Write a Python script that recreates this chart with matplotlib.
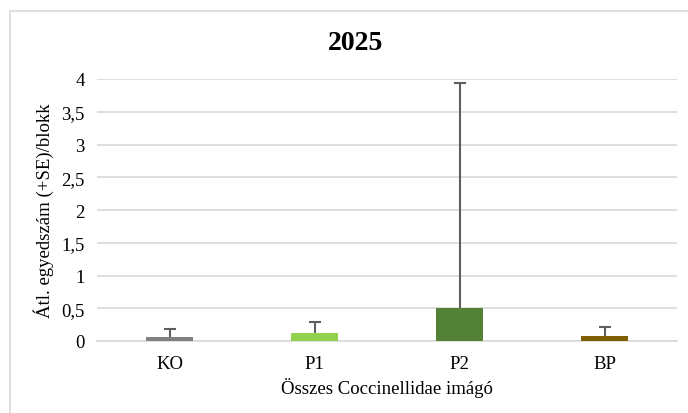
import matplotlib
matplotlib.use("Agg")
import matplotlib.pyplot as plt
from matplotlib.patches import Rectangle

# Mean counts per block and standard errors
categories = ["KO", "P1", "P2", "BP"]
means = [0.06, 0.125, 0.5, 0.08]
se = [0.125, 0.165, 3.44, 0.14]
colors = ["#808080", "#92d050", "#538135", "#7f6000"]
yticks = [0, 0.5, 1, 1.5, 2, 2.5, 3, 3.5, 4]
ytick_labels = ["0", "0,5", "1", "1,5", "2", "2,5", "3", "3,5", "4"]

plt.rcParams["font.family"] = ["Liberation Serif", "DejaVu Serif"]

W, H = 688, 414
fig = plt.figure(figsize=(W / 100, H / 100), dpi=100)

# Chart frame
fig.patches.append(Rectangle((10 / W, -0.05), 1.1, 1 - 12 / H + 0.05,
                             transform=fig.transFigure, fill=False,
                             edgecolor="#d9d9d9", linewidth=1.2))

ax = fig.add_axes([97 / W, 1 - 342 / H, (677 - 97) / W, (342 - 80) / H])
x = list(range(len(categories)))
ax.bar(x, means, width=0.325, color=colors, zorder=3)
_, caps, _ = ax.errorbar(x, means, yerr=[[0] * len(se), se], fmt="none",
                         ecolor="#5f5f5f", elinewidth=1.5, capsize=4,
                         capthick=1.5, zorder=4)
# keep only the upper caps
caps[0].remove()

ax.set_xlim(-0.5, len(categories) - 0.5)
ax.set_ylim(0, 4)
ax.set_yticks(yticks)
ax.set_yticklabels(ytick_labels)
ax.set_xticks(x)
ax.set_xticklabels(categories)
ax.tick_params(axis="both", length=0, labelsize=13.5, colors="black")
ax.tick_params(axis="y", pad=9)
ax.tick_params(axis="x", pad=10)
ax.yaxis.grid(True, color="#d9d9d9", linewidth=1.2, zorder=0)
for side in ["top", "right", "left"]:
    ax.spines[side].set_visible(False)
ax.spines["bottom"].set_color("#d9d9d9")
ax.spines["bottom"].set_linewidth(1.2)

ax.set_ylabel("Átl. egyedszám (+SE)/blokk", fontsize=13.5, labelpad=5)
ax.set_xlabel("Összes Coccinellidae imágó", fontsize=13.5, labelpad=4)

fig.text(356 / W, 1 - 44 / H, "2025", ha="center", va="center",
         fontsize=20, fontweight="bold")

fig.savefig("out.png", dpi=100)
